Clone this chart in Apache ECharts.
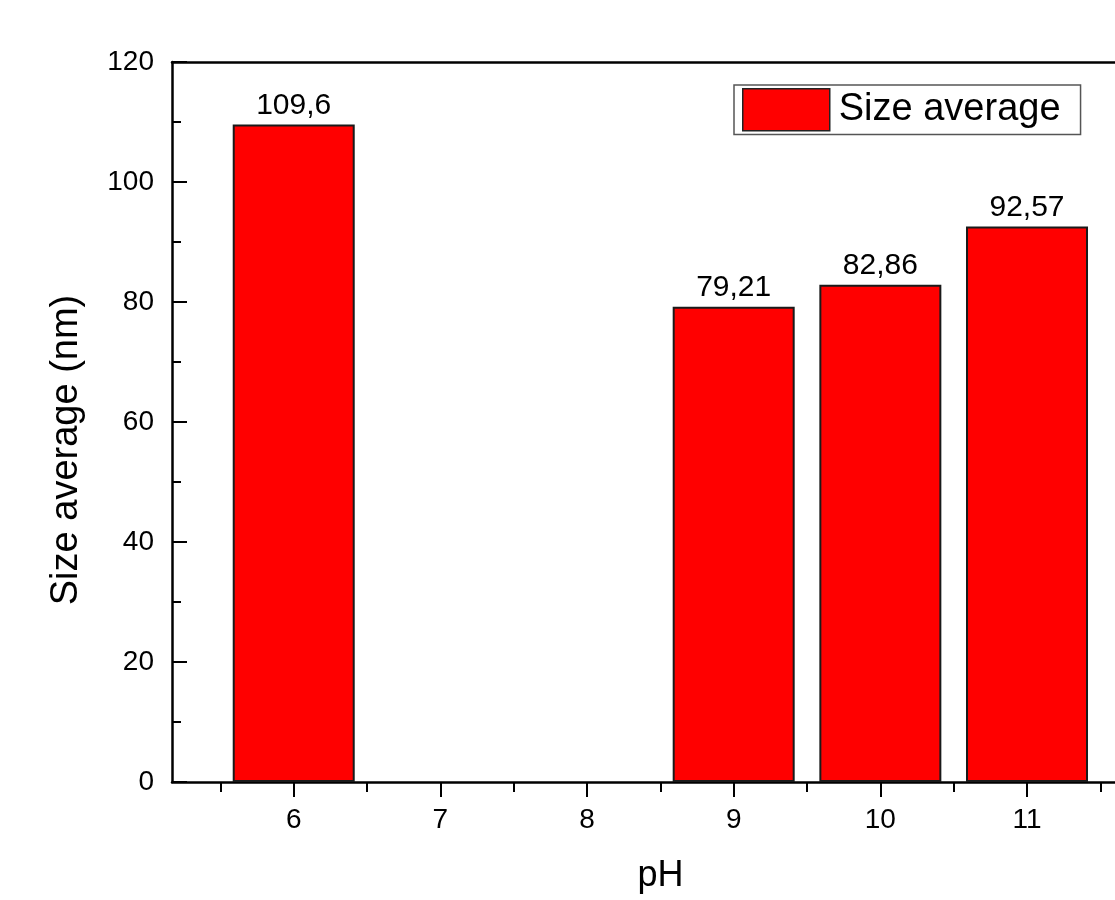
<!DOCTYPE html>
<html>
<head>
<meta charset="utf-8">
<script src="https://cdn.jsdelivr.net/npm/echarts@6/dist/echarts.min.js"></script>
<style>
  html, body { margin: 0; padding: 0; background: #fff; }
  #chart { width: 1115px; height: 900px; }
</style>
</head>
<body>
<div id="chart"></div>
<script>
// Particle size average measured at each pH
const phValues = [6, 9, 10, 11];
const sizeAverage = [109.6, 79.21, 82.86, 92.57];
const xTickValues = [6, 7, 8, 9, 10, 11];
const xMinorTickValues = [5.5, 6.5, 7.5, 8.5, 9.5, 10.5, 11.5];
const seriesName = 'Size average';

const FONT = 'Arial, "Liberation Sans", Helvetica, sans-serif';
const INK = '#000';

const chart = echarts.init(document.getElementById('chart'), null, { renderer: 'canvas' });

// the frame runs past the right edge of the canvas, so the axis stops at 11.6
const xMin = 5.17, xMax = 11.6;

chart.setOption({
  backgroundColor: '#fff',
  animation: false,
  grid: { left: 172, top: 62, right: 0, bottom: 118, containLabel: false },
  legend: {
    data: [{ name: seriesName, icon: 'rect' }],
    left: 734, top: 85,
    padding: [3, 20, 3, 8],
    itemWidth: 87, itemHeight: 42, itemGap: 10,
    borderColor: '#555', borderWidth: 1.5, borderRadius: 0,
    textStyle: { fontFamily: FONT, fontSize: 38, color: INK, padding: [0, 0, 0, 4] },
    itemStyle: { borderColor: '#222', borderWidth: 1.5 }
  },
  xAxis: [
    {
      type: 'value', position: 'bottom', min: xMin, max: xMax,
      name: 'pH', nameLocation: 'middle', nameGap: 76,
      nameTextStyle: { fontFamily: FONT, fontSize: 36, color: INK, padding: [0, 0, 0, 34] },
      axisLine: { show: true, lineStyle: { color: INK, width: 2.5 } },
      axisTick: { show: true, inside: false, length: 15, lineStyle: { color: INK, width: 2 }, customValues: xTickValues },
      axisLabel: { show: true, margin: 24, fontFamily: FONT, fontSize: 28, color: INK, customValues: xTickValues, formatter: v => String(v) },
      splitLine: { show: false }
    },
    {
      // half-step minor ticks along the bottom
      type: 'value', position: 'bottom', min: xMin, max: xMax,
      axisLine: { show: false },
      axisTick: { show: true, inside: false, length: 10, lineStyle: { color: INK, width: 2 }, customValues: xMinorTickValues },
      axisLabel: { show: false },
      splitLine: { show: false }
    },
    {
      // top frame line
      type: 'value', position: 'top', min: xMin, max: xMax,
      axisLine: { show: true, lineStyle: { color: INK, width: 2.5 } },
      axisTick: { show: false }, axisLabel: { show: false }, splitLine: { show: false }
    }
  ],
  yAxis: {
    type: 'value', min: 0, max: 120, interval: 20,
    name: 'Size average (nm)', nameLocation: 'middle', nameGap: 86,
    nameTextStyle: { fontFamily: FONT, fontSize: 38, color: INK, padding: [0, 56, 0, 0] },
    axisLine: { show: true, lineStyle: { color: INK, width: 2.5 } },
    axisTick: { show: true, inside: true, length: 15, lineStyle: { color: INK, width: 2 } },
    minorTick: { show: true, splitNumber: 2, length: 9, lineStyle: { color: INK, width: 2 } },
    axisLabel: { margin: 18, fontFamily: FONT, fontSize: 28, color: INK },
    splitLine: { show: false }
  },
  series: [
    {
      name: seriesName,
      type: 'bar',
      xAxisIndex: 0,
      barWidth: 122,
      data: phValues.map((p, i) => [p, sizeAverage[i]]),
      itemStyle: { color: '#ff0000', borderColor: '#1a1a1a', borderWidth: 2 },
      label: {
        show: true, position: 'top', distance: 4,
        fontFamily: FONT, fontSize: 30, color: INK,
        formatter: p => String(p.value[1]).replace('.', ',')
      }
    }
  ]
});
</script>
</body>
</html>
